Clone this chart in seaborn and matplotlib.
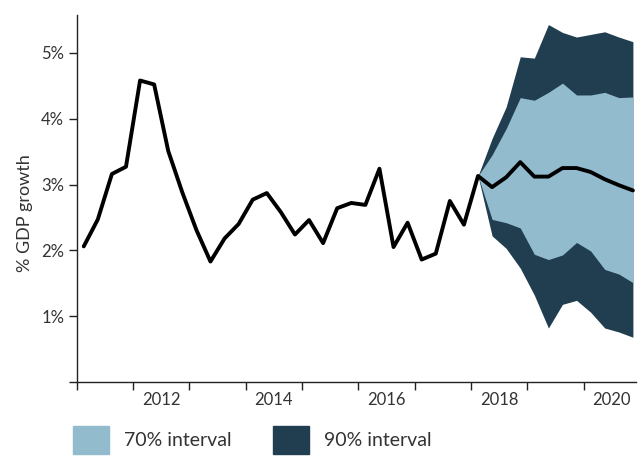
import numpy as np
import pandas as pd
import matplotlib
matplotlib.use("Agg")
import matplotlib.pyplot as plt
from matplotlib.patches import Patch
import seaborn as sns

# quarterly GDP growth, 2011Q1 - 2020Q4
quarters = pd.period_range("2011Q1", "2020Q4", freq="Q")
gdp_growth = [2.06, 2.47, 3.16, 3.27, 4.58, 4.52, 3.51, 2.88, 2.31, 1.83,
              2.18, 2.40, 2.77, 2.87, 2.58, 2.24, 2.46, 2.11, 2.64, 2.72,
              2.69, 3.24, 2.05, 2.42, 1.86, 1.95, 2.75, 2.39, 3.13, 2.96,
              3.11, 3.34, 3.12, 3.12, 3.25, 3.25, 3.19, 3.08, 2.99, 2.91]

# forecast fan from 2018Q1 onwards
fan_start = "2018Q1"
lower_90 = [3.13, 2.22, 2.03, 1.73, 1.32, 0.82, 1.18, 1.24, 1.06, 0.82, 0.76, 0.68]
lower_70 = [3.13, 2.47, 2.42, 2.34, 1.94, 1.86, 1.93, 2.12, 1.99, 1.71, 1.64, 1.51]
upper_70 = [3.13, 3.45, 3.85, 4.32, 4.28, 4.40, 4.54, 4.36, 4.36, 4.40, 4.32, 4.33]
upper_90 = [3.13, 3.70, 4.18, 4.94, 4.92, 5.43, 5.31, 5.24, 5.28, 5.32, 5.24, 5.17]

year_labels = ["2012", "2014", "2016", "2018", "2020"]
legend_labels = ["70% interval", "90% interval"]

LIGHT = "#93bbce"
DARK = "#203e4f"
TEXT = "#333333"

sns.set_style("ticks")
plt.rcParams["font.family"] = ["Lato", "DejaVu Sans"]

# quarter midpoints as decimal years
dec = quarters.year + (quarters.quarter - 0.5) / 4
df = pd.DataFrame({"date": dec, "growth": gdp_growth})
i0 = list(quarters.astype(str)).index(fan_start)
fan = pd.DataFrame({"date": dec[i0:], "lo90": lower_90, "lo70": lower_70,
                    "hi70": upper_70, "hi90": upper_90})

fig = plt.figure(figsize=(6.39, 4.57), dpi=100)
ax = fig.add_axes([76.7 / 639, 75 / 457, 559.3 / 639, 367 / 457])

ax.fill_between(fan["date"], fan["lo90"], fan["hi90"], color=DARK, lw=0)
ax.fill_between(fan["date"], fan["lo70"], fan["hi70"], color=LIGHT, lw=0)
sns.lineplot(data=df, x="date", y="growth", color="black", lw=2.8, ax=ax)

ax.set_xlim(2011, 2020.93)
ax.set_ylim(0, 5.575)

ax.set_xticks(range(2011, 2021), labels=[""] * 10)
ax.set_xticks([int(y) + 0.5 for y in year_labels], labels=year_labels, minor=True)
ax.tick_params(axis="x", which="major", length=6, width=1, color="#222222")
ax.tick_params(axis="x", which="minor", length=0, pad=7, labelsize=12, labelcolor=TEXT)

ax.set_yticks(range(0, 6), labels=[""] + [f"{v}%" for v in range(1, 6)])
ax.tick_params(axis="y", length=6, width=1, pad=3, color="#222222",
               labelsize=12, labelcolor=TEXT)

ax.set_xlabel("")
ax.set_ylabel("% GDP growth", fontsize=13, color=TEXT)
ax.yaxis.set_label_coords(-0.078, 0.46)

sns.despine(ax=ax)
for s in ["left", "bottom"]:
    ax.spines[s].set_linewidth(1)
    ax.spines[s].set_color("#222222")

handles = [Patch(color=LIGHT, label=legend_labels[0]),
           Patch(color=DARK, label=legend_labels[1])]
fig.legend(handles=handles, loc="upper left", bbox_to_anchor=(73.3 / 639, 1 - 426 / 457),
           ncol=2, frameon=False, fontsize=14, labelcolor=TEXT,
           handlelength=1.84, handleheight=1.84, handletextpad=0.77,
           columnspacing=2.14, borderpad=0, borderaxespad=0)

fig.savefig("out.png", dpi=100)
